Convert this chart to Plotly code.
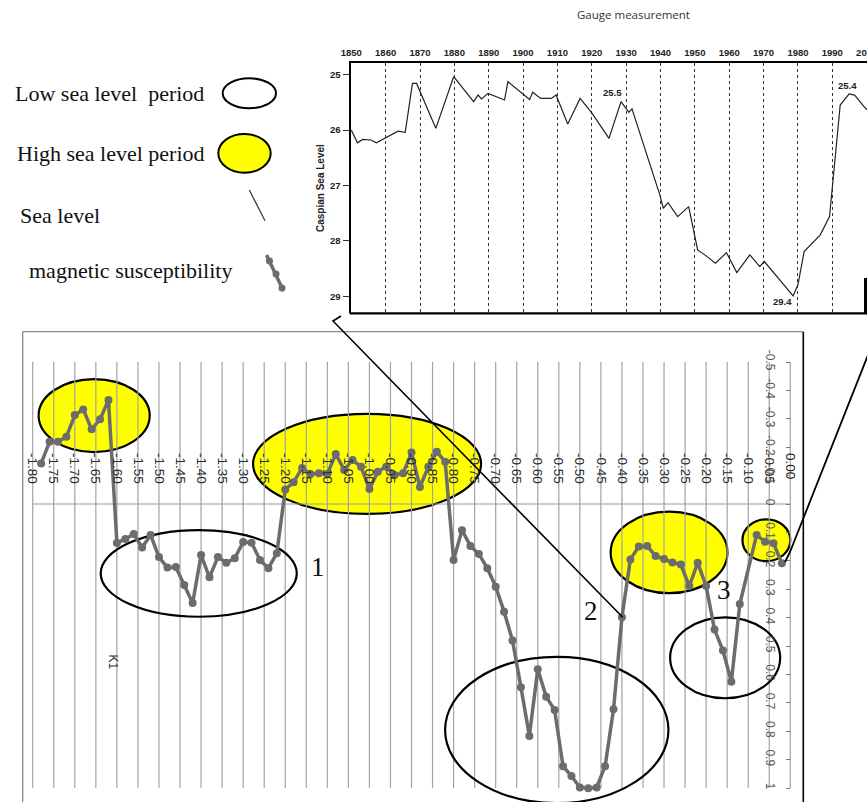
import plotly.graph_objects as go

# ---------------- data ----------------
depth = [-1.78, -1.76, -1.74, -1.72, -1.70, -1.68, -1.66, -1.64, -1.62, -1.60,
         -1.58, -1.56, -1.54, -1.52, -1.50, -1.48, -1.46, -1.44, -1.42, -1.40,
         -1.38, -1.36, -1.34, -1.32, -1.30, -1.28, -1.26, -1.24, -1.22, -1.20,
         -1.18, -1.16, -1.14, -1.12, -1.10, -1.08, -1.06, -1.04, -1.02, -1.00,
         -0.98, -0.96, -0.94, -0.92, -0.90, -0.88, -0.86, -0.84, -0.82, -0.80,
         -0.78, -0.76, -0.74, -0.72, -0.70, -0.68, -0.66, -0.64, -0.62, -0.60,
         -0.58, -0.56, -0.54, -0.52, -0.50, -0.48, -0.46, -0.44, -0.42, -0.40,
         -0.38, -0.36, -0.34, -0.32, -0.30, -0.28, -0.26, -0.24, -0.22, -0.20,
         -0.18, -0.16, -0.14, -0.12, -0.08, -0.06, -0.04, -0.02]
susceptibility = [-0.143, -0.219, -0.219, -0.237, -0.313, -0.333, -0.263, -0.298, -0.366, 0.137,
                  0.123, 0.106, 0.153, 0.109, 0.187, 0.224, 0.222, 0.285, 0.349, 0.180,
                  0.258, 0.187, 0.207, 0.191, 0.134, 0.136, 0.197, 0.226, 0.173, -0.051,
                  -0.077, -0.127, -0.106, -0.108, -0.106, -0.176, -0.120, -0.155, -0.131, -0.053,
                  -0.114, -0.131, -0.102, -0.108, -0.181, -0.060, -0.131, -0.184, -0.149, 0.197,
                  0.092, 0.148, 0.176, 0.226, 0.291, 0.379, 0.481, 0.645, 0.817, 0.582,
                  0.679, 0.725, 0.923, 0.958, 0.998, 1.001, 0.998, 0.923, 0.723, 0.399,
                  0.195, 0.150, 0.148, 0.183, 0.194, 0.206, 0.213, 0.289, 0.207, 0.289,
                  0.442, 0.516, 0.626, 0.352, 0.109, 0.133, 0.138, 0.209]

depth_ticks = [-1.80, -1.75, -1.70, -1.65, -1.60, -1.55, -1.50, -1.45, -1.40, -1.35,
               -1.30, -1.25, -1.20, -1.15, -1.10, -1.05, -1.00, -0.95, -0.90, -0.85,
               -0.80, -0.75, -0.70, -0.65, -0.60, -0.55, -0.50, -0.45, -0.40, -0.35,
               -0.30, -0.25, -0.20, -0.15, -0.10, -0.05, 0.00]
depth_ticklabels = ["-1.80", "-1.75", "-1.70", "-1.65", "-1.60", "-1.55", "-1.50", "-1.45", "-1.40", "-1.35",
                    "-1.30", "-1.25", "-1.20", "-1.15", "-1.10", "-1.05", "-1.00", "-0.95", "-0.90", "-0.85",
                    "-0.80", "-0.75", "-0.70", "-0.65", "-0.60", "-0.55", "-0.50", "-0.45", "-0.40", "-0.35",
                    "-0.30", "-0.25", "-0.20", "-0.15", "-0.10", "-0.05", "0.00"]
ms_ticks = [-0.5, -0.4, -0.3, -0.2, -0.1, 0.0, 0.1, 0.2, 0.3, 0.4, 0.5, 0.6, 0.7, 0.8, 0.9, 1.0]
ms_ticklabels = ["-0.5", "-0.4", "-0.3", "-0.2", "-0.1", "0", "0.1", "0.2", "0.3", "0.4",
                 "0.5", "0.6", "0.7", "0.8", "0.9", "1"]

years = [1850, 1851.8, 1853.3, 1855.7, 1857.3, 1858.8, 1860.4, 1863.6, 1865.7, 1867.8,
         1869, 1874.6, 1879.8, 1885.6, 1886.9, 1887.9, 1889.8, 1894.6, 1895.6, 1901.9,
         1902.8, 1905.1, 1908.2, 1909.6, 1913, 1916.6, 1920.1, 1925, 1928.5, 1929.8,
         1930.8, 1931.7, 1939.8, 1940.8, 1942.2, 1945, 1948.2, 1950.8, 1952.9, 1956,
         1959.2, 1962.2, 1966, 1968.9, 1970.2, 1978.6, 1980, 1981.8, 1986.5, 1989.2,
         1992.3, 1994.9, 1996.5, 1999.1, 2000.5]
sea_level = [26.00, 26.23, 26.17, 26.18, 26.23, 26.18, 26.13, 26.02, 26.04, 25.16,
             25.16, 25.97, 25.04, 25.49, 25.37, 25.44, 25.34, 25.46, 25.13, 25.45,
             25.32, 25.43, 25.43, 25.37, 25.89, 25.43, 25.70, 26.15, 25.49, 25.61,
             25.68, 25.62, 27.17, 27.41, 27.31, 27.56, 27.38, 28.16, 28.25, 28.40,
             28.21, 28.57, 28.25, 28.46, 28.37, 28.99, 28.79, 28.19, 27.89, 27.56,
             25.55, 25.35, 25.37, 25.57, 25.66]
year_ticks = [1850, 1860, 1870, 1880, 1890, 1900, 1910, 1920, 1930, 1940, 1950, 1960, 1970, 1980, 1990, 2000]
level_ticks = [25, 26, 27, 28, 29]

# ---------------- layout helpers ----------------
W, H = 867, 802
def PX(x):
    return x / W
def PY(y):
    return 1 - y / H

YELLOW = "#ffff00"
MS_COLOR = "#6c6c6c"
SERIF = "Liberation Serif, Times New Roman, serif"
SANS = "Liberation Sans, Arial, sans-serif"

fig = go.Figure()

fig.add_trace(go.Scatter(
    x=depth, y=susceptibility, mode="lines+markers",
    line=dict(color=MS_COLOR, width=3.5),
    marker=dict(color=MS_COLOR, size=8),
    xaxis="x", yaxis="y", showlegend=False, hoverinfo="skip"))

fig.add_trace(go.Scatter(
    x=years, y=sea_level, mode="lines",
    line=dict(color="#222222", width=1.2),
    xaxis="x2", yaxis="y2", showlegend=False, hoverinfo="skip", cliponaxis=True))

shapes = []

# yellow (high sea level) ellipses in main chart, data coords
for (x0, x1, y0, y1) in [(-1.786, -1.522, -0.440, -0.183),
                         (-1.2765, -0.7346, -0.317, 0.035),
                         (-0.4268, -0.1493, 0.027, 0.314),
                         (-0.1137, 0.000, 0.054, 0.201)]:
    shapes.append(dict(type="circle", xref="x", yref="y", x0=x0, x1=x1, y0=y0, y1=y1,
                       fillcolor=YELLOW, line=dict(color="black", width=2.2), layer="below"))

# vertical grid lines
for t in depth_ticks:
    shapes.append(dict(type="line", xref="x", yref="y", x0=t, x1=t, y0=-0.5, y1=1.0,
                       line=dict(color="#a3a3a3", width=1.2), layer="below"))
# horizontal zero line
shapes.append(dict(type="line", xref="x", yref="y", x0=depth_ticks[0], x1=depth_ticks[-1], y0=0, y1=0,
                   line=dict(color="#9a9a9a", width=1.2), layer="below"))

# white (low sea level) ellipses
for (x0, x1, y0, y1) in [(-1.6384, -1.1726, 0.092, 0.397),
                         (-0.8202, -0.2895, 0.538, 1.053),
                         (-0.2855, -0.0241, 0.399, 0.684)]:
    shapes.append(dict(type="circle", xref="x", yref="y", x0=x0, x1=x1, y0=y0, y1=y1,
                       line=dict(color="black", width=2.2), layer="below"))

# main frame (top, left gray; right black)
shapes.append(dict(type="line", xref="paper", yref="paper", x0=PX(22.7), x1=PX(803.3), y0=PY(331.7), y1=PY(331.7),
                   line=dict(color="#8a8a8a", width=1.3)))
shapes.append(dict(type="line", xref="paper", yref="paper", x0=PX(22.7), x1=PX(22.7), y0=PY(331.7), y1=0,
                   line=dict(color="#8a8a8a", width=1.3)))
shapes.append(dict(type="line", xref="paper", yref="paper", x0=PX(803.3), x1=PX(803.3), y0=PY(331.7), y1=0,
                   line=dict(color="black", width=1.6)))

# inset bottom border and right bar
shapes.append(dict(type="line", xref="paper", yref="paper", x0=PX(349.6), x1=1, y0=PY(313.3), y1=PY(313.3),
                   line=dict(color="black", width=2.2)))
shapes.append(dict(type="line", xref="paper", yref="paper", x0=PX(865.5), x1=PX(865.5), y0=PY(278), y1=PY(313.3),
                   line=dict(color="black", width=3)))

# connector lines
shapes.append(dict(type="path", xref="paper", yref="paper",
                   path=f"M {PX(341)},{PY(316)} L {PX(333)},{PY(321)} L {PX(622.7)},{PY(617.3)}",
                   line=dict(color="black", width=1.6)))
shapes.append(dict(type="path", xref="paper", yref="paper",
                   path=f"M {PX(868)},{PY(355)} L {PX(790)},{PY(552)} L {PX(785)},{PY(562)}",
                   line=dict(color="black", width=1.8)))

# legend symbols
shapes.append(dict(type="circle", xref="paper", yref="paper", x0=PX(222.7), x1=PX(276), y0=PY(78.3), y1=PY(108.3),
                   line=dict(color="black", width=2)))
shapes.append(dict(type="circle", xref="paper", yref="paper", x0=PX(218.3), x1=PX(270.7), y0=PY(134), y1=PY(172.7),
                   fillcolor=YELLOW, line=dict(color="black", width=2)))
shapes.append(dict(type="line", xref="paper", yref="paper", x0=PX(249.3), x1=PX(265), y0=PY(190), y1=PY(220.7),
                   line=dict(color="#333333", width=1.2)))
shapes.append(dict(type="line", xref="paper", yref="paper", x0=PX(266.5), x1=PX(283.5), y0=PY(255), y1=PY(291),
                   line=dict(color=MS_COLOR, width=3.5)))
for (cx, cy) in [(269.5, 261), (276, 274), (282, 288)]:
    shapes.append(dict(type="circle", xref="paper", yref="paper", x0=PX(cx - 3.5), x1=PX(cx + 3.5),
                       y0=PY(cy - 3.5), y1=PY(cy + 3.5), fillcolor=MS_COLOR, line=dict(color=MS_COLOR, width=0)))

annotations = []
def txt(x, y, s, size, family=SANS, color="#111", xanchor="center", angle=0, weight="normal"):
    annotations.append(dict(x=PX(x), y=PY(y), xref="paper", yref="paper", text=s, showarrow=False,
                            xanchor=xanchor, yanchor="middle", textangle=angle,
                            font=dict(size=size, family=family, color=color, weight=weight)))

# legend text
txt(13, 93.5, "Low sea level\u00a0 period", 22, SERIF, "#111", "left")
txt(15, 153.5, "High sea level period", 22, SERIF, "#111", "left")
txt(18, 215, "Sea level", 22, SERIF, "#111", "left")
txt(26.5, 270, "magnetic susceptibility", 22, SERIF, "#111", "left")

# period numbers
txt(317.7, 567.3, "1", 27, SERIF)
txt(590.7, 611, "2", 27, SERIF)
txt(724, 590, "3", 27, SERIF)

# K1
txt(113.3, 661.7, "K1", 12, SANS, "#333", angle=90)

# inset texts
txt(633.8, 14.5, "Gauge measurement", 11.5, "Open Sans, sans-serif", "#333")
txt(320, 188, "Caspian Sea Level", 10, SANS, "#222", angle=-90, weight="bold")
txt(612.8, 93, "25.5", 9.5, SANS, "#222", weight="bold")
txt(847.9, 85, "25.4", 9.5, SANS, "#222", weight="bold")
txt(782, 301.5, "29.4", 9.5, SANS, "#222", weight="bold")

fig.update_layout(
    width=W, height=H,
    margin=dict(l=0, r=0, t=0, b=0),
    template="none",
    paper_bgcolor="white", plot_bgcolor="white",
    showlegend=False,
    font=dict(family=SANS, color="#222"),
    xaxis=dict(domain=[PX(22.7), PX(803.3)], range=[-1.8238, 0.0309],
               anchor="free", position=PY(452), side="bottom",
               tickmode="array", tickvals=depth_ticks, ticktext=depth_ticklabels,
               tickangle=90, ticks="", showgrid=False, zeroline=False, showline=False,
               tickfont=dict(size=13.5, color="#2a2a2a", family=SANS), automargin=False),
    yaxis=dict(domain=[0, PY(331.7)], range=[1.0493, -0.6067],
               anchor="free", position=PX(790.3), side="left",
               tickmode="array", tickvals=ms_ticks, ticktext=ms_ticklabels,
               tickangle=90, ticks="outside", ticklen=4, tickcolor="#777", tickwidth=1,
               ticklabelstandoff=6,
               showgrid=False, zeroline=False, showline=False,
               tickfont=dict(size=12, color="#555", family=SANS), automargin=False),
    xaxis2=dict(domain=[PX(350.6), 1.0], range=[1849.8, 2000.1], anchor="y2", side="top",
                tickmode="array", tickvals=year_ticks, ticks="outside", ticklen=1,
                tickcolor="rgba(0,0,0,0)", ticklabeloverflow="allow",
                showgrid=True, gridcolor="#333", griddash="dot", gridwidth=1,
                zeroline=False, showline=True, linecolor="black", linewidth=2.2,
                tickfont=dict(size=9.5, color="#222", family=SANS, weight="bold"), automargin=False),
    yaxis2=dict(domain=[PY(313.3), PY(63.3)], range=[29.303, 24.798], anchor="x2", side="left",
                tickmode="array", tickvals=level_ticks, ticks="outside", ticklen=6, tickcolor="#333",
                showgrid=False, zeroline=False, showline=True, linecolor="black", linewidth=2.2,
                tickfont=dict(size=9.5, color="#222", family=SANS, weight="bold"), automargin=False),
    shapes=shapes,
    annotations=annotations,
)

fig.write_html("out.html", config={"displayModeBar": False},
               post_script="document.body.style.margin='0';document.body.style.overflow='hidden';")
